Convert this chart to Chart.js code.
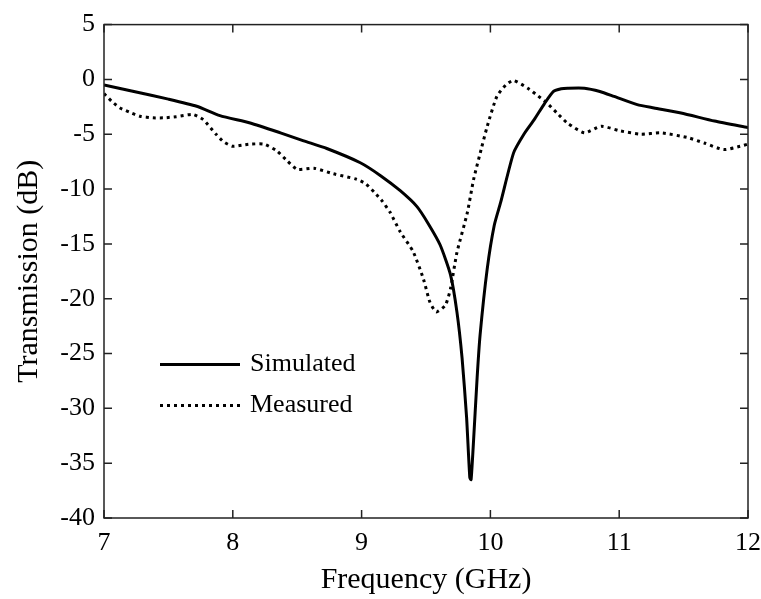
<!DOCTYPE html>
<html>
<head>
<meta charset="utf-8">
<script src="https://cdn.jsdelivr.net/npm/chart.js@4"></script>
<style>
  html, body { margin: 0; padding: 0; background: #fff; }
  #wrap { width: 761px; height: 599px; }
</style>
</head>
<body>
<div id="wrap"><canvas id="chart" width="761" height="599"></canvas></div>
<script>
// values
const simFreq = [7.0, 7.25, 7.5, 7.72, 7.9, 8.135, 8.37, 8.55, 8.73, 8.99, 9.15, 9.30, 9.43, 9.52, 9.61, 9.69, 9.74, 9.78, 9.815, 9.84, 9.85, 9.866, 9.897, 9.92, 9.975, 10.03, 10.08, 10.18, 10.26, 10.34, 10.42, 10.49, 10.55, 10.60, 10.73, 10.85, 10.96, 11.14, 11.27, 11.48, 11.74, 12.0];
const simDb = [-0.5, -1.15, -1.8, -2.45, -3.3, -3.97, -4.87, -5.6, -6.3, -7.6, -8.8, -10.15, -11.6, -13.2, -15.1, -17.8, -21.2, -25.4, -30.8, -36.3, -36.5, -33.6, -27.2, -23.3, -17.3, -13.3, -11.2, -6.7, -5.0, -3.67, -2.2, -1.1, -0.85, -0.8, -0.8, -1.1, -1.55, -2.3, -2.6, -3.06, -3.8, -4.4];

const measFreq = [7.0, 7.06, 7.125, 7.2, 7.28, 7.38, 7.47, 7.56, 7.69, 7.77, 7.87, 7.93, 8.0, 8.07, 8.135, 8.24, 8.34, 8.42, 8.5, 8.63, 8.78, 8.96, 9.03, 9.10, 9.16, 9.22, 9.30, 9.40, 9.48, 9.53, 9.58, 9.65, 9.69, 9.74, 9.82, 9.87, 9.93, 9.975, 10.05, 10.12, 10.18, 10.29, 10.37, 10.44, 10.52, 10.60, 10.73, 10.86, 11.01, 11.17, 11.32, 11.53, 11.66, 11.81, 11.94, 12.0];
const measDb = [-1.3, -2.0, -2.6, -3.0, -3.36, -3.5, -3.5, -3.4, -3.2, -3.67, -5.0, -5.7, -6.1, -6.0, -5.9, -5.9, -6.5, -7.4, -8.2, -8.1, -8.6, -9.1, -9.5, -10.3, -11.1, -12.1, -13.9, -15.7, -18.2, -20.3, -21.2, -20.6, -19.1, -15.8, -12.2, -9.1, -6.3, -4.3, -1.55, -0.5, -0.1, -0.8, -1.5, -2.16, -3.1, -4.0, -4.87, -4.27, -4.7, -5.0, -4.87, -5.3, -5.8, -6.4, -6.1, -5.9];

const seriesNames = ['Simulated', 'Measured'];
const xRange = [7, 12];
const yRange = [-40, 5];

const serif = "'Liberation Serif', 'Times New Roman', serif";

function toPoints(xs, ys) {
  return xs.map((x, i) => ({ x: x, y: ys[i] }));
}

// matlab style box with inward ticks + legend in the lower left
const boxPlugin = {
  id: 'box',
  afterDraw(chart) {
    const { ctx, chartArea: a, scales } = chart;
    const tl = 8;
    ctx.save();
    ctx.strokeStyle = '#222';
    ctx.lineWidth = 1.5;
    ctx.strokeRect(a.left, a.top, a.right - a.left, a.bottom - a.top);
    ctx.beginPath();
    scales.x.ticks.forEach(t => {
      const px = scales.x.getPixelForValue(t.value);
      ctx.moveTo(px, a.bottom); ctx.lineTo(px, a.bottom - tl);
      ctx.moveTo(px, a.top); ctx.lineTo(px, a.top + tl);
    });
    scales.y.ticks.forEach(t => {
      const py = scales.y.getPixelForValue(t.value);
      ctx.moveTo(a.left, py); ctx.lineTo(a.left + tl, py);
      ctx.moveTo(a.right, py); ctx.lineTo(a.right - tl, py);
    });
    ctx.stroke();

    // legend
    const lx = a.left + 56, ly = a.top + 340, gap = 41;
    ctx.font = '26px ' + serif;
    ctx.fillStyle = '#000';
    ctx.textBaseline = 'middle';
    chart.data.datasets.forEach((ds, i) => {
      const y = ly + i * gap;
      ctx.beginPath();
      ctx.setLineDash(ds.borderDash || []);
      ctx.lineWidth = ds.borderWidth;
      ctx.strokeStyle = ds.borderColor;
      ctx.moveTo(lx, y); ctx.lineTo(lx + 80, y);
      ctx.stroke();
      ctx.setLineDash([]);
      ctx.fillText(ds.label, lx + 90, y);
    });
    ctx.restore();
  }
};

new Chart(document.getElementById('chart'), {
  type: 'line',
  data: {
    datasets: [
      {
        label: seriesNames[0],
        data: toPoints(simFreq, simDb),
        borderColor: '#000',
        borderWidth: 3,
        pointRadius: 0,
        tension: 0.2,
        fill: false
      },
      {
        label: seriesNames[1],
        data: toPoints(measFreq, measDb),
        borderColor: '#000',
        borderWidth: 3,
        borderDash: [3, 4],
        pointRadius: 0,
        tension: 0.2,
        fill: false
      }
    ]
  },
  options: {
    responsive: false,
    animation: false,
    devicePixelRatio: 1,
    layout: { padding: { top: 21, right: 1, left: 0, bottom: 0 } },
    plugins: {
      legend: { display: false },
      tooltip: { enabled: false }
    },
    scales: {
      x: {
        type: 'linear',
        min: xRange[0],
        max: xRange[1],
        afterFit: s => { s.height = 81; s.paddingRight = 13; },
        grid: { display: false, drawTicks: false },
        border: { display: false },
        ticks: {
          stepSize: 1,
          padding: 10,
          color: '#000',
          font: { family: serif, size: 26 }
        },
        title: {
          display: true,
          text: 'Frequency (GHz)',
          color: '#000',
          font: { family: serif, size: 30 },
          padding: { top: 0, bottom: 1 }
        }
      },
      y: {
        type: 'linear',
        min: yRange[0],
        max: yRange[1],
        afterFit: s => { s.width = 104; },
        grid: { display: false, drawTicks: false },
        border: { display: false },
        ticks: {
          stepSize: 5,
          padding: 9,
          color: '#000',
          font: { family: serif, size: 26 }
        },
        title: {
          display: true,
          text: 'Transmission (dB)',
          color: '#000',
          font: { family: serif, size: 30 },
          padding: { top: 11, bottom: 0 }
        }
      }
    }
  },
  plugins: [boxPlugin]
});
</script>
</body>
</html>
